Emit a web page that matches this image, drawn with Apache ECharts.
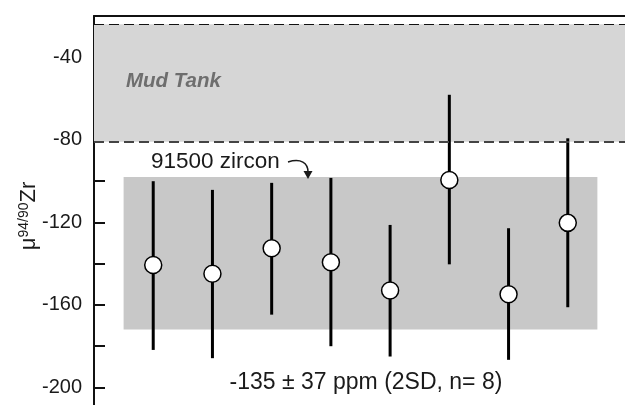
<!DOCTYPE html>
<html>
<head>
<meta charset="utf-8">
<script src="https://cdn.jsdelivr.net/npm/echarts@6/dist/echarts.min.js"></script>
<style>html,body{margin:0;padding:0;background:#fff;}#c{width:625px;height:405px;}</style>
</head>
<body>
<div id="c"></div>
<script>
// ---- data ----
const analysisNo = [1, 2, 3, 4, 5, 6, 7, 8];
const muZr = [-140.7, -145.0, -132.6, -139.4, -153.1, -99.5, -154.9, -120.3];
const errTop = [-100.1, -104.3, -100.9, -98.5, -121.3, -58.2, -122.9, -79.3];
const errBottom = [-181.9, -185.9, -164.8, -180.1, -185.1, -140.4, -186.7, -161.2];
const mudTankBand = [-24, -81];
const zirconBand = [-98, -172];
const zirconBandX = [0.5, 8.5];
const yRange = [-220, -20];
const yStep = 20;
const yLabelStep = 40;
const labels = {
  mud: 'Mud Tank',
  zircon: '91500 zircon',
  summary: '-135 ± 37 ppm (2SD, n= 8)'
};

const FONT = '"Liberation Sans", Arial, sans-serif';
const chart = echarts.init(document.getElementById('c'), null, {renderer: 'canvas'});

const pts = analysisNo.map((x, i) => [x, muZr[i]]);
const bars = analysisNo.map((x, i) => [x, errBottom[i], errTop[i]]);

chart.setOption({
  animation: false,
  backgroundColor: '#fff',
  grid: {left: 94, top: 16, width: 533, height: 412.5, containLabel: false, outerBoundsMode: 'none'},
  xAxis: {
    type: 'value', min: 0, max: 9, position: 'top',
    axisLine: {show: true, onZero: false, lineStyle: {color: '#111', width: 2}},
    axisTick: {show: false}, axisLabel: {show: false}, splitLine: {show: false}
  },
  yAxis: {
    type: 'value', min: yRange[0], max: yRange[1], interval: yStep,
    axisLine: {show: true, onZero: false, lineStyle: {color: '#111', width: 2}},
    axisTick: {show: true, inside: true, length: 11, lineStyle: {color: '#111', width: 2}},
    axisLabel: {
      margin: 12, color: '#1a1a1a', fontSize: 20, fontFamily: FONT,
      formatter: v => (v % yLabelStep === 0 ? String(v) : '')
    },
    splitLine: {show: false}
  },
  graphic: [
    {
      type: 'text', x: 29, y: 216, rotation: Math.PI / 2, z: 100,
      style: {
        text: '{a|μ}{b|94/90}{a|Zr}',
        align: 'center', verticalAlign: 'middle',
        fill: '#1a1a1a', fontFamily: FONT,
        rich: {
          a: {fontSize: 22, fontFamily: FONT, fill: '#1a1a1a', lineHeight: 24},
          b: {fontSize: 14, fontFamily: FONT, fill: '#1a1a1a', verticalAlign: 'top', lineHeight: 24, padding: [0, 0, 10, 0]}
        }
      }
    },
    {
      type: 'text', x: 126, y: 81, z: 100,
      style: {text: labels.mud, fontSize: 20.5, fontWeight: 'bold', fontStyle: 'italic',
        fontFamily: FONT, fill: '#6e6e6e', align: 'left', verticalAlign: 'middle'}
    },
    {
      type: 'text', x: 151, y: 162, z: 100,
      style: {text: labels.zircon, fontSize: 22.5, fontFamily: FONT, fill: '#1a1a1a',
        align: 'left', verticalAlign: 'middle'}
    },
    {
      type: 'bezierCurve', z: 100,
      shape: {x1: 288, y1: 162, cpx1: 301, cpy1: 158, cpx2: 308, cpy2: 163, x2: 308, y2: 172},
      style: {stroke: '#1a1a1a', lineWidth: 1.5, fill: null}
    },
    {
      type: 'polygon', z: 100,
      shape: {points: [[303.5, 171], [312.5, 171], [308, 179]]},
      style: {fill: '#1a1a1a'}
    },
    {
      type: 'text', x: 366, y: 383, z: 100,
      style: {text: labels.summary, fontSize: 23, fontFamily: FONT, fill: '#1a1a1a',
        align: 'center', verticalAlign: 'middle'}
    }
  ],
  series: [
    {
      type: 'line', data: [], z: 1, silent: true,
      markArea: {
        silent: true,
        data: [
          [{yAxis: mudTankBand[0], itemStyle: {color: '#d6d6d6'}}, {yAxis: mudTankBand[1]}],
          [{coord: [zirconBandX[0], zirconBand[0]], itemStyle: {color: '#c8c8c8'}}, {coord: [zirconBandX[1], zirconBand[1]]}]
        ]
      },
      markLine: {
        silent: true, symbol: 'none', label: {show: false},
        data: [
          {yAxis: mudTankBand[0], lineStyle: {color: '#111', width: 1.2, type: [10, 5]}},
          {yAxis: mudTankBand[1], lineStyle: {color: '#444', width: 2, type: [10, 5]}}
        ]
      }
    },
    {
      type: 'custom', z: 3, silent: true,
      data: bars,
      renderItem: (params, api) => {
        const lo = api.coord([api.value(0), api.value(1)]);
        const hi = api.coord([api.value(0), api.value(2)]);
        return {
          type: 'line',
          shape: {x1: lo[0], y1: lo[1], x2: hi[0], y2: hi[1]},
          style: {stroke: '#000', lineWidth: 3}
        };
      }
    },
    {
      type: 'scatter', z: 4, silent: true,
      data: pts, symbol: 'circle', symbolSize: 17,
      itemStyle: {color: '#fff', borderColor: '#000', borderWidth: 1.5, opacity: 1}
    }
  ]
});
</script>
</body>
</html>
